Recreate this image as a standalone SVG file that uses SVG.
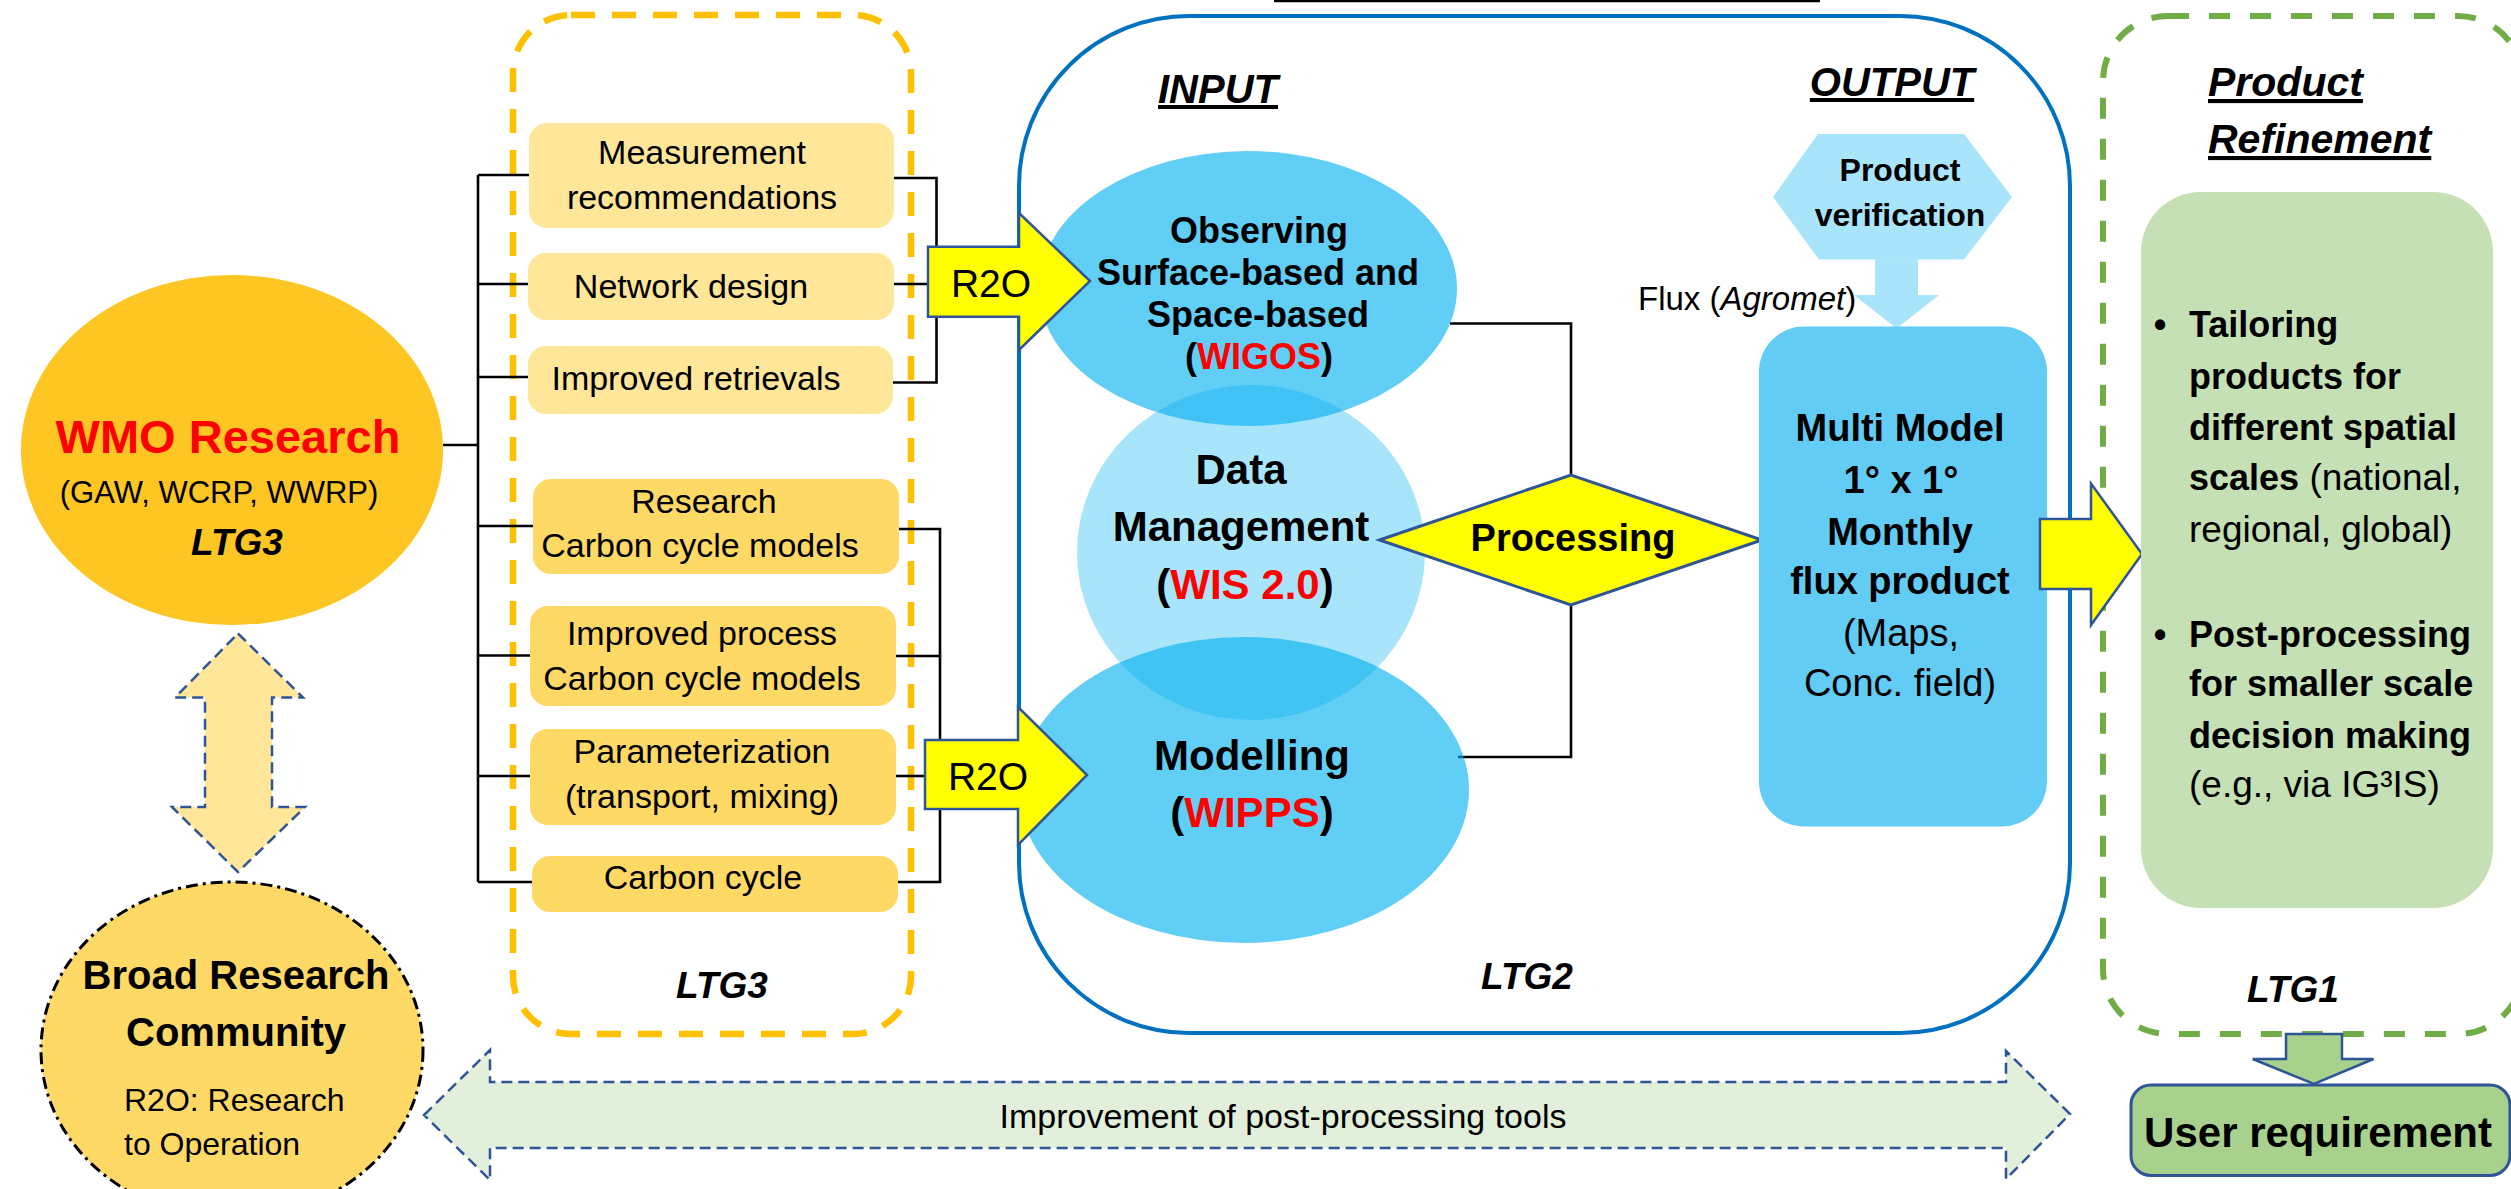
<svg xmlns="http://www.w3.org/2000/svg" width="2511" height="1189" viewBox="0 0 2511 1189">
<style>
text { font-family: "Liberation Sans", Arial, sans-serif; fill: #000; }
.b { font-weight: bold; }
.bi { font-weight: bold; font-style: italic; }
.c { text-anchor: middle; }
.u { text-decoration: underline; }
.n { font-weight: normal; }
.red { fill: #FF0000; }
.conn { stroke: #000; stroke-width: 2.6; fill: none; }
.bx1 { fill: #FFE699; }
.bx2 { fill: #FFD966; }
.bt { font-size: 34px; }
.yarrow { fill: #FFFF00; stroke: #2F5597; stroke-width: 2.5; }
.dbl { stroke: #2F5597; stroke-width: 2.5; stroke-dasharray: 11 6; }
.blue62 { fill: #00B0F0; fill-opacity: 0.62; }
.blue34 { fill: #00B0F0; fill-opacity: 0.34; }
</style>
<rect x="0" y="0" width="2511" height="1189" fill="#FFFFFF"/>
<line x1="1274" y1="1" x2="1820" y2="1" stroke="#000" stroke-width="2.5"/>

<g id="ltg3-container">
  <rect x="513" y="15" width="398" height="1019" rx="58" fill="none" stroke="#FFC000" stroke-width="6.5" stroke-dasharray="24 17"/>
  <text class="bi c" x="722" y="998" font-size="37">LTG3</text>
</g>
<g id="ltg2-container">
  <rect x="1019" y="16" width="1051" height="1017" rx="170" fill="none" stroke="#0070C0" stroke-width="4"/>
  <text class="bi c u" x="1218" y="103" font-size="40">INPUT</text>
  <text class="bi c u" x="1892" y="96" font-size="40">OUTPUT</text>
  <text class="bi c" x="1527" y="989" font-size="37">LTG2</text>
</g>
<g id="ltg1-container">
  <rect x="2103" y="16" width="420" height="1018" rx="65" fill="none" stroke="#70AD47" stroke-width="6" stroke-dasharray="21 20"/>
  <text class="bi u" x="2208" y="96" font-size="41">Product</text>
  <text class="bi u" x="2208" y="153" font-size="41">Refinement</text>
  <text class="bi c" x="2293" y="1002" font-size="37">LTG1</text>
</g>

<g id="connectors">
  <line class="conn" x1="443" y1="445" x2="478" y2="445"/>
  <line class="conn" x1="478" y1="175" x2="478" y2="882"/>
  <line class="conn" x1="478" y1="175" x2="529" y2="175"/>
  <line class="conn" x1="478" y1="284" x2="528" y2="284"/>
  <line class="conn" x1="478" y1="377" x2="528" y2="377"/>
  <line class="conn" x1="478" y1="526" x2="533" y2="526"/>
  <line class="conn" x1="478" y1="655.5" x2="530" y2="655.5"/>
  <line class="conn" x1="478" y1="776" x2="530" y2="776"/>
  <line class="conn" x1="478" y1="882" x2="532" y2="882"/>
  <polyline class="conn" points="894,178 936.5,178 936.5,382.5 893,382.5"/>
  <line class="conn" x1="894" y1="284" x2="928" y2="284"/>
  <polyline class="conn" points="899,529 940,529 940,882 898,882"/>
  <line class="conn" x1="896" y1="656" x2="940" y2="656"/>
  <line class="conn" x1="896" y1="776" x2="924" y2="776"/>
  <polyline class="conn" points="1450,323.5 1571,323.5 1571,475"/>
  <polyline class="conn" points="1458,757 1571,757 1571,605"/>
</g>

<g id="wmo-research">
  <ellipse cx="232" cy="450" rx="211" ry="175" fill="#FDC623"/>
  <text class="b c red" x="228" y="453" font-size="47">WMO Research</text>
  <text class="c" x="219" y="503" font-size="31">(GAW, WCRP, WWRP)</text>
  <text class="bi c" x="237" y="555" font-size="37">LTG3</text>
</g>
<g id="research-exchange-arrow">
  <polygon class="dbl" fill="#FFE699" points="238,633.5 303,697.5 272,697.5 272,807 305,807 238,872 172,807 205,807 205,697.5 175,697.5"/>
</g>
<g id="broad-research">
  <ellipse cx="232" cy="1050" rx="191" ry="168" fill="#FFD966" stroke="#000" stroke-width="3" stroke-dasharray="12 5 3 5"/>
  <text class="b c" x="236" y="989" font-size="40">Broad Research</text>
  <text class="b c" x="236" y="1046" font-size="40">Community</text>
  <text x="124" y="1111" font-size="32">R2O: Research</text>
  <text x="124" y="1155" font-size="32">to Operation</text>
</g>
<g id="post-processing-arrow">
  <polygon class="dbl" fill="#E2EFDA" points="424,1115 490,1050 490,1082 2006,1082 2006,1051 2070,1114 2006,1179 2006,1148 490,1148 490,1180"/>
  <text class="c" x="1283" y="1128" font-size="34">Improvement of post-processing tools</text>
</g>

<g id="box-measurement">
  <rect class="bx1" x="529" y="123" width="365" height="105" rx="18"/>
  <text class="c bt" x="702" y="164">Measurement</text>
  <text class="c bt" x="702" y="209">recommendations</text>
</g>
<g id="box-network">
  <rect class="bx1" x="528" y="253" width="366" height="67" rx="18"/>
  <text class="c bt" x="691" y="298">Network design</text>
</g>
<g id="box-retrievals">
  <rect class="bx1" x="528" y="346" width="365" height="68" rx="18"/>
  <text class="c bt" x="696" y="390">Improved retrievals</text>
</g>
<g id="box-research-carbon">
  <rect class="bx2" x="533" y="479" width="366" height="95" rx="18"/>
  <text class="c bt" x="704" y="513">Research</text>
  <text class="c bt" x="700" y="557">Carbon cycle models</text>
</g>
<g id="box-process-carbon">
  <rect class="bx2" x="530" y="606" width="366" height="100" rx="18"/>
  <text class="c bt" x="702" y="645">Improved process</text>
  <text class="c bt" x="702" y="690">Carbon cycle models</text>
</g>
<g id="box-parameterization">
  <rect class="bx2" x="530" y="729" width="366" height="96" rx="18"/>
  <text class="c bt" x="702" y="763">Parameterization</text>
  <text class="c bt" x="702" y="808">(transport, mixing)</text>
</g>
<g id="box-carbon-cycle">
  <rect class="bx2" x="532" y="856" width="366" height="56" rx="18"/>
  <text class="c bt" x="703" y="889">Carbon cycle</text>
</g>

<g id="observing">
  <ellipse class="blue62" cx="1248" cy="288.5" rx="209" ry="137.5"/>
  <text class="b c" x="1259" y="243" font-size="36">Observing</text>
  <text class="b c" x="1258" y="285" font-size="36">Surface-based and</text>
  <text class="b c" x="1258" y="327" font-size="36">Space-based</text>
  <text class="b c" x="1259" y="369" font-size="36">(<tspan class="red">WIGOS</tspan>)</text>
</g>
<g id="data-management">
  <ellipse class="blue34" cx="1251" cy="552.5" rx="174" ry="167.5"/>
  <text class="b c" x="1241" y="484" font-size="42">Data</text>
  <text class="b c" x="1241" y="541" font-size="42">Management</text>
  <text class="b c" x="1245" y="599" font-size="42">(<tspan class="red">WIS 2.0</tspan>)</text>
</g>
<g id="modelling">
  <ellipse class="blue62" cx="1244" cy="790" rx="225" ry="153"/>
  <text class="b c" x="1252" y="770" font-size="42">Modelling</text>
  <text class="b c" x="1252" y="827" font-size="42">(<tspan class="red">WIPPS</tspan>)</text>
</g>
<g id="r2o-upper">
  <polygon class="yarrow" points="928,246.7 1019,246.7 1019,213 1090,281 1019,350 1019,316.7 928,316.7"/>
  <text class="c" x="991" y="297" font-size="39">R2O</text>
</g>
<g id="r2o-lower">
  <polygon class="yarrow" points="925,740 1018,740 1018,707 1087,775 1018,845 1018,809 925,809"/>
  <text class="c" x="988" y="790" font-size="39">R2O</text>
</g>

<g id="processing">
  <polygon fill="#FFFF00" stroke="#2F5597" stroke-width="3" points="1379.5,540 1571,475 1762,540 1571,605"/>
  <text class="b c" x="1573" y="551" font-size="38">Processing</text>
</g>

<g id="product-verification">
  <polygon class="blue34" points="1818,134 1964,134 2012,197 1964,259.5 1819,259.5 1773,197"/>
  <polygon class="blue34" points="1875,259.5 1918,259.5 1918,295 1939,295 1896.5,328.5 1854,295 1875,295"/>
  <text class="b c" x="1900" y="181" font-size="32">Product</text>
  <text class="b c" x="1900" y="226" font-size="32">verification</text>
</g>
<text x="1638" y="310" font-size="33">Flux (<tspan font-style="italic">Agromet</tspan>)</text>

<g id="flux-product">
  <rect x="1759" y="326.5" width="288" height="500" rx="45" fill="#62CCF4"/>
  <text class="b c" x="1900" y="441" font-size="38">Multi Model</text>
  <text class="b c" x="1901" y="493" font-size="38">1° x 1°</text>
  <text class="b c" x="1900" y="545" font-size="38">Monthly</text>
  <text class="b c" x="1900" y="594" font-size="38">flux product</text>
  <text class="c" x="1901" y="646" font-size="38">(Maps,</text>
  <text class="c" x="1900" y="696" font-size="38">Conc. field)</text>
</g>

<g id="output-arrow">
  <polygon class="yarrow" points="2040,519 2091,519 2091,483.5 2142,554 2091,625 2091,589 2040,589"/>
</g>

<g id="refinement-box">
  <rect x="2141" y="192" width="352" height="716" rx="60" fill="#C5E0B4"/>
  <text class="b c" x="2160" y="337" font-size="36">•</text>
  <text class="b" x="2189" y="337" font-size="36">Tailoring</text>
  <text class="b" x="2189" y="388.5" font-size="36">products for</text>
  <text class="b" x="2189" y="440" font-size="36">different spatial</text>
  <text class="b" x="2189" y="490" font-size="36">scales<tspan class="n" font-size="37"> (national,</tspan></text>
  <text x="2189" y="541.5" font-size="37">regional, global)</text>
  <text class="b c" x="2160" y="647" font-size="36">•</text>
  <text class="b" x="2189" y="647" font-size="36">Post-processing</text>
  <text class="b" x="2189" y="696" font-size="36">for smaller scale</text>
  <text class="b" x="2189" y="747.5" font-size="36">decision making</text>
  <text x="2189" y="796.5" font-size="37">(e.g., via IG³IS)</text>
</g>

<g id="requirement-arrow">
  <polygon fill="#A9D18E" stroke="#2F5597" stroke-width="2.5" points="2286,1034 2342,1034 2342,1059 2373.5,1059 2314,1084 2252.7,1059 2286,1059"/>
</g>
<g id="user-requirement">
  <rect x="2131" y="1085" width="379" height="90.5" rx="20" fill="#A9D18E" stroke="#2F5597" stroke-width="3"/>
  <text class="b c" x="2318" y="1147" font-size="42">User requirement</text>
</g>
</svg>
